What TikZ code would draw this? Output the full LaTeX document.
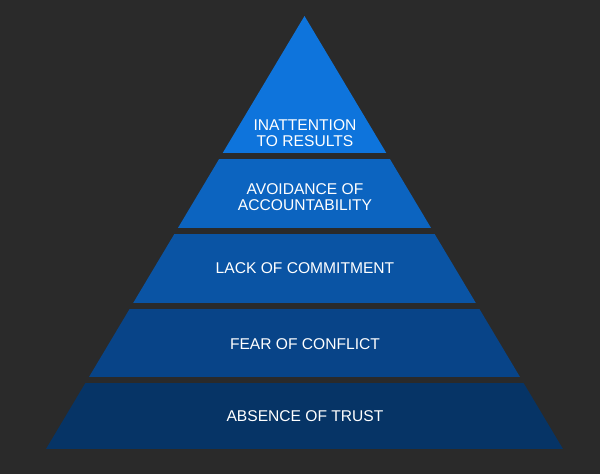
\documentclass[tikz,border=0pt]{standalone}
\usepackage{fontspec}
\setmainfont{Liberation Sans}
\definecolor{bg}{RGB}{42,42,42}
\definecolor{cA}{RGB}{14,116,220}
\definecolor{cB}{RGB}{12,100,192}
\definecolor{cC}{RGB}{10,84,164}
\definecolor{cD}{RGB}{8,68,136}
\definecolor{cE}{RGB}{6,52,102}
\tikzset{
  lbl/.style={text=white, font=\fontsize{15.6}{16}\selectfont, align=center, inner sep=0pt},
}
\begin{document}
\begin{tikzpicture}[x=1pt,y=-1pt]
\fill[bg] (0,0) rectangle (600,474);
\useasboundingbox (0,0) rectangle (600,474);
\begin{scope}
  \clip (304.5,16) -- (563,449) -- (46,449) -- cycle;
  \fill[cA] (0,0) rectangle (600,153);
  \fill[cB] (0,159) rectangle (600,227.5);
  \fill[cC] (0,233.5) rectangle (600,303);
  \fill[cD] (0,309) rectangle (600,377);
  \fill[cE] (0,382.5) rectangle (600,449);
\end{scope}
\node[lbl] (t1) at (305,133) {INATTENTION\\TO RESULTS};
\node[lbl] (t2) at (305,197) {AVOIDANCE OF\\ACCOUNTABILITY};
\node[lbl] (t3) at (305,268) {LACK OF COMMITMENT};
\node[lbl] (t4) at (305,344) {FEAR OF CONFLICT};
\node[lbl] (t5) at (305,416) {ABSENCE OF TRUST};
\end{tikzpicture}
\end{document}
